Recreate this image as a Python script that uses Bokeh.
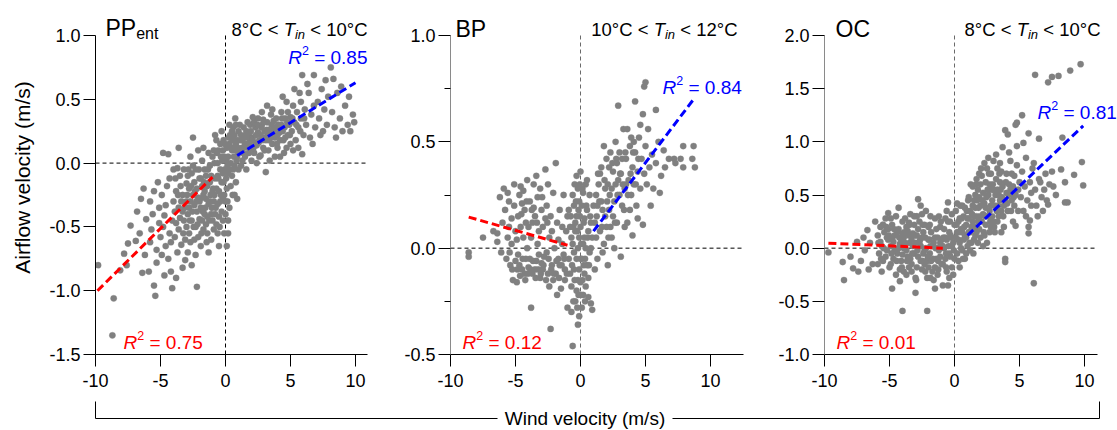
from bokeh.plotting import figure
from bokeh.models import Range1d, Label, FixedTicker, PrintfTickFormatter
from bokeh.layouts import row, column
from bokeh.core.properties import value
from bokeh.embed import file_html
from bokeh.resources import INLINE

# ---------------- data ----------------
pp_points = [
    (-9.8,-0.80), (-8.7,-1.35), (-8.6,-1.06), (-8.1,-0.84), (-7.8,-0.71), (-7.5,-0.63), (-7.3,-0.49), (-7.6,-0.80),
    (-6.9,-0.61), (-6.8,-0.38), (-6.6,-0.55), (-6.5,-0.28), (-6.3,-0.20), (-6.2,-0.72), (-6.1,-0.44), (-6.4,-0.86),
    (-5.9,-0.85), (-5.8,-0.30), (-5.7,-0.52), (-5.6,-0.40), (-5.5,-0.96), (-5.4,-1.04), (-5.3,-0.68), (-5.2,-0.15),
    (-5.1,-0.35), (-5.5,-0.22), (-5.0,-0.58), (-5.3,-0.78), (-5.8,-0.62), (-5.1,-0.47),
    (-4.9,-0.25), (-4.8,0.08), (-4.7,-0.41), (-4.6,-0.65), (-4.5,-0.18), (-4.4,0.07), (-4.3,-0.55), (-4.2,-0.85),
    (-4.1,-0.98), (-4.0,-0.30), (-4.9,-0.72), (-4.6,-0.33), (-4.3,-0.12), (-4.1,-0.45), (-4.8,-0.50), (-4.4,-0.75),
    (-4.2,-0.62), (-4.0,-0.05), (-4.7,-0.88),
    (-3.9,-0.38), (-3.8,-0.22), (-3.7,-0.70), (-3.6,-0.52), (-3.5,-0.10), (-3.4,-0.30), (-3.3,-0.82), (-3.2,-0.45),
    (-3.1,-0.60), (-3.0,-0.16), (-3.9,-0.58), (-3.8,-0.90), (-3.7,-0.04), (-3.6,-0.35), (-3.5,-0.43), (-3.4,-0.64),
    (-3.3,-0.25), (-3.2,-0.05), (-3.1,-0.76), (-3.0,-0.50), (-3.6,0.12), (-3.3,-0.38), (-3.8,-0.47), (-3.0,-0.30),
    (-2.9,-0.40), (-2.8,-0.20), (-2.7,-0.62), (-2.6,-0.08), (-2.5,0.20), (-2.4,-0.33), (-2.3,-0.50), (-2.2,-0.97),
    (-2.1,-0.27), (-2.0,-0.12), (-2.9,-0.70), (-2.8,-0.55), (-2.7,-0.30), (-2.6,-0.45), (-2.5,-0.02), (-2.4,-0.15),
    (-2.3,-0.72), (-2.2,-0.38), (-2.1,-0.58), (-2.0,-0.44), (-2.9,-0.10), (-2.7,0.05), (-2.5,-0.25), (-2.3,-0.05),
    (-2.1,0.10), (-2.6,-0.80), (-2.4,-0.60), (-2.0,-0.30), (-2.8,-0.35), (-2.2,-0.20),
    (-1.9,-0.35), (-1.8,-0.18), (-1.7,-0.52), (-1.6,-0.05), (-1.5,-0.28), (-1.4,-0.42), (-1.3,0.08), (-1.2,-0.15),
    (-1.1,-0.60), (-1.0,-0.22), (-1.9,-0.65), (-1.8,0.02), (-1.7,-0.25), (-1.6,-0.40), (-1.5,-0.10), (-1.4,-0.55),
    (-1.3,-0.32), (-1.2,-0.02), (-1.1,-0.40), (-1.0,0.05), (-1.9,-0.12), (-1.7,0.12), (-1.5,-0.48), (-1.3,-0.70),
    (-1.1,-0.10), (-1.6,-0.22), (-1.2,-0.30), (-1.0,-0.45), (-1.8,-0.45), (-1.4,-0.18),
    (-0.9,-0.30), (-0.8,-0.12), (-0.7,-0.48), (-0.6,0.00), (-0.5,-0.65), (-0.5,-0.22), (-0.4,0.15), (-0.3,-0.38),
    (-0.2,-0.08), (-0.1,-0.55), (-0.9,0.10), (-0.8,-0.40), (-0.7,-0.20), (-0.6,-0.32), (-0.4,-0.05), (-0.3,0.25),
    (-0.2,-0.28), (-0.1,0.05), (-0.9,-0.52), (-0.7,0.18), (-0.5,-0.42), (-0.3,-0.15), (-0.1,-0.25), (-0.8,0.22),
    (-0.6,-0.55), (-0.4,-0.30), (-0.2,0.10), (0.0,-0.40), (-0.6,-0.10), (-0.2,-0.45),
    (0.1,-0.65), (0.1,-0.20), (0.2,0.05), (0.3,-0.35), (0.4,0.20), (0.5,-0.10), (0.6,0.28), (0.7,-0.02),
    (0.8,0.15), (0.9,-0.28), (1.0,0.08), (0.1,0.12), (0.2,-0.45), (0.3,0.30), (0.4,-0.18), (0.5,0.10),
    (0.6,-0.05), (0.7,0.22), (0.8,-0.15), (0.9,0.18), (1.0,0.25), (0.2,-0.08), (0.4,0.00), (0.6,0.12),
    (0.8,0.30), (1.0,-0.05), (0.3,0.15), (0.7,-0.25), (0.5,0.25), (0.9,0.05), (0.2,-0.55), (0.0,-0.30),
    (1.1,0.10), (1.2,0.22), (1.3,0.02), (1.4,0.28), (1.5,0.15), (1.6,-0.05), (1.7,0.20), (1.8,0.08),
    (1.9,0.30), (2.0,0.12), (1.1,0.30), (1.3,0.18), (1.5,0.05), (1.7,0.32), (1.9,0.18), (1.2,-0.02),
    (1.6,0.25), (2.0,0.02), (1.4,0.12), (1.8,0.22),
    (2.1,0.20), (2.2,0.08), (2.3,0.28), (2.4,0.14), (2.5,0.35), (2.6,0.05), (2.7,0.22), (2.8,0.30),
    (2.9,0.12), (3.0,0.25), (2.2,0.32), (2.4,0.00), (2.6,0.18), (2.8,0.40), (3.0,0.10), (2.3,0.16),
    (2.7,0.06), (2.5,0.24), (2.9,0.34), (2.1,0.36),
    (3.1,-0.07), (3.1,0.18), (3.2,0.32), (3.3,0.10), (3.4,0.25), (3.5,0.38), (3.6,0.15), (3.7,0.28),
    (3.8,0.05), (3.9,0.35), (4.0,0.22), (3.2,0.45), (3.4,0.02), (3.6,0.42), (3.8,0.20), (4.0,0.12),
    (3.3,0.26), (3.7,0.33), (3.5,0.20), (3.9,0.27),
    (4.1,0.30), (4.2,0.18), (4.3,0.40), (4.4,0.25), (4.5,0.08), (4.6,0.35), (4.7,0.48), (4.8,0.22),
    (4.9,0.30), (5.0,0.15), (4.2,0.05), (4.4,0.52), (4.6,0.20), (4.8,0.40), (5.0,0.36), (4.3,0.30), (4.7,0.12),
    (5.1,0.25), (5.2,0.45), (5.3,0.32), (5.4,0.18), (5.5,0.40), (5.6,0.28), (5.7,0.55), (5.8,0.35),
    (5.9,0.69), (5.9,0.07), (6.0,0.22), (5.3,0.58), (5.6,0.12), (5.8,0.48), (5.2,0.10),
    (6.1,0.42), (6.2,0.30), (6.4,0.55), (6.5,0.20), (6.6,0.38), (6.8,0.69), (6.8,0.45), (6.9,0.28),
    (6.3,0.62), (6.7,0.15),
    (7.1,0.48), (7.2,0.35), (7.4,0.58), (7.5,0.25), (7.6,0.42), (7.8,0.30), (7.9,0.52), (7.3,0.22), (7.7,0.65),
    (8.1,0.75), (8.3,0.66), (8.2,0.40), (8.4,0.28), (8.6,0.55), (8.8,0.35), (9.0,0.25), (9.2,0.45),
    (9.4,0.30), (9.6,0.25), (9.8,0.38), (9.9,0.32), (8.9,0.60), (9.5,0.52), (8.5,0.20),
    # dense core
    (-2.95,-0.25), (-2.75,-0.45), (-2.55,-0.38), (-2.35,-0.22), (-2.15,-0.48), (-1.95,-0.28), (-1.75,-0.38),
    (-1.55,-0.35), (-1.35,-0.05), (-1.15,-0.25), (-2.85,-0.05), (-2.65,-0.18), (-2.45,-0.50), (-2.25,-0.30),
    (-2.05,-0.05), (-1.85,-0.55), (-1.65,-0.15), (-1.45,-0.62), (-1.25,-0.45), (-1.05,-0.35), (-3.45,-0.18),
    (-3.25,-0.55), (-3.65,-0.25), (-3.85,-0.12), (-3.15,-0.35),
    (-0.95,-0.20), (-0.85,-0.25), (-0.75,-0.35), (-0.65,0.08), (-0.55,-0.12), (-0.45,-0.50), (-0.35,-0.25),
    (-0.25,0.02), (-0.15,-0.15), (-0.05,-0.05), (0.05,0.02), (0.15,-0.30), (0.25,0.20), (0.35,-0.05),
    (0.45,0.12), (0.55,-0.25), (0.65,0.05), (0.75,0.10), (0.85,0.02), (0.95,0.12), (-0.85,0.00), (-0.55,0.10),
    (-0.35,0.05), (-0.15,0.18), (0.05,-0.12), (0.15,-0.02), (0.35,0.22), (0.55,0.18), (0.75,0.35), (-0.05,0.15),
    (1.15,0.18), (1.35,0.08), (1.55,0.22), (1.75,0.12), (1.95,0.25), (2.15,0.12), (2.35,0.22), (2.55,0.16),
    (2.75,0.28), (2.95,0.20), (3.15,0.26), (3.35,0.18), (3.55,0.30), (3.75,0.22), (3.95,0.15), (4.15,0.24),
    (4.35,0.35), (4.55,0.28), (4.75,0.32), (4.95,0.22), (1.25,0.12), (1.65,0.15), (2.05,0.18), (2.45,0.30),
    (2.85,0.18), (3.25,0.22), (3.65,0.25), (4.05,0.30), (4.45,0.18), (5.15,0.35), (5.45,0.30), (5.75,0.25),
    (6.05,0.35), (1.45,0.20), (1.85,0.15),
]

bp_points = [
    (-8.6,-0.02), (-8.6,-0.04), (-7.5,0.05), (-6.4,0.07), (-6.4,0.03), (-6.2,0.24), (-5.9,0.28), (-6.7,0.08),
    (-6.0,0.12), (-6.1,-0.02),
    (-5.8,0.18), (-5.6,0.05), (-5.5,0.22), (-5.4,-0.08), (-5.3,0.14), (-5.2,-0.15), (-5.1,0.30), (-5.0,-0.06),
    (-5.7,-0.05), (-5.5,0.10), (-5.3,0.02), (-5.1,0.20), (-5.6,0.26), (-5.0,0.08),
    (-4.9,-0.16), (-4.8,0.15), (-4.7,0.25), (-4.6,0.29), (-4.5,-0.10), (-4.4,0.05), (-4.3,0.18), (-4.2,-0.05),
    (-4.1,0.32), (-4.0,0.10), (-4.9,0.04), (-4.7,-0.08), (-4.5,0.21), (-4.3,-0.12), (-4.1,0.00), (-4.8,-0.03),
    (-4.4,0.27), (-4.2,0.12), (-4.6,0.10), (-4.0,-0.09),
    (-3.9,0.22), (-3.8,-0.28), (-3.8,0.05), (-3.7,-0.12), (-3.6,0.30), (-3.5,0.15), (-3.4,-0.06), (-3.3,0.24),
    (-3.2,0.08), (-3.1,-0.14), (-3.0,0.18), (-3.9,-0.05), (-3.7,0.12), (-3.5,-0.10), (-3.3,0.02), (-3.1,0.28),
    (-3.6,0.19), (-3.2,-0.03), (-3.4,0.34), (-3.0,-0.07),
    (-2.9,0.10), (-2.8,-0.04), (-2.7,0.37), (-2.6,0.20), (-2.5,-0.12), (-2.4,0.05), (-2.3,-0.38), (-2.3,0.15),
    (-2.2,-0.08), (-2.1,0.26), (-2.0,0.00), (-2.9,-0.10), (-2.7,0.14), (-2.5,0.30), (-2.4,-0.18), (-2.1,-0.15),
    (-2.6,-0.02), (-2.2,0.08),
    (-1.9,0.40), (-1.8,-0.22), (-1.8,0.12), (-1.7,-0.05), (-1.6,0.18), (-1.5,-0.19), (-1.4,0.02), (-1.3,0.25),
    (-1.2,-0.10), (-1.1,0.08), (-1.0,-0.28), (-1.0,0.15), (-1.9,-0.12), (-1.6,-0.08), (-1.4,0.10), (-1.2,-0.15),
    (-1.7,0.04), (-1.3,-0.03),
    (-0.9,-0.05), (-0.8,0.10), (-0.7,-0.18), (-0.6,-0.46), (-0.6,0.02), (-0.5,0.20), (-0.5,-0.10), (-0.4,0.08),
    (-0.4,-0.25), (-0.3,0.15), (-0.3,-0.05), (-0.2,0.28), (-0.2,-0.15), (-0.1,-0.32), (-0.1,0.05), (-0.1,0.22),
    (-0.9,0.18), (-0.7,0.05), (-0.5,-0.02), (-0.3,-0.20), (-0.2,0.00), (-0.8,-0.12), (-0.4,0.12), (-0.6,0.25),
    (-0.1,-0.10), (-0.3,0.34), (-0.7,-0.30), (-0.2,-0.36),
    (0.0,-0.16), (0.0,0.36), (0.0,0.10), (0.1,-0.05), (0.1,0.20), (0.2,-0.22), (0.2,0.02), (0.3,0.14),
    (0.3,-0.12), (0.4,0.30), (0.4,0.00), (0.5,-0.08), (0.5,0.18), (0.6,-0.23), (0.6,0.08), (0.7,0.25),
    (0.7,-0.02), (0.8,-0.26), (0.8,0.12), (0.9,-0.29), (0.9,0.05), (1.0,0.20), (0.1,-0.28), (0.2,0.26),
    (0.4,-0.18), (0.6,-0.14), (0.3,0.05), (0.5,0.32), (0.8,0.00), (0.0,-0.05),
    (1.1,0.12), (1.2,0.25), (1.3,-0.05), (1.4,0.30), (1.5,0.08), (1.6,0.38), (1.7,0.18), (1.8,0.02),
    (1.9,0.28), (2.0,0.42), (1.1,-0.10), (1.3,0.20), (1.5,0.35), (1.7,-0.02), (1.9,0.15), (1.2,0.05),
    (1.6,0.22), (1.8,0.48), (2.0,0.10),
    (2.1,-0.08), (2.1,0.30), (2.2,0.18), (2.3,0.45), (2.4,0.05), (2.5,0.36), (2.6,0.22), (2.7,0.50),
    (2.8,0.12), (2.9,0.67), (2.9,0.32), (3.0,0.25), (2.2,0.38), (2.4,0.28), (2.6,0.00), (2.8,0.40),
    (3.0,0.45), (2.5,0.15), (2.7,0.30), (2.3,0.10),
    (3.1,-0.04), (3.1,0.35), (3.2,0.20), (3.3,0.56), (3.4,0.28), (3.5,0.42), (3.6,0.56), (3.6,0.12),
    (3.7,0.32), (3.8,0.48), (3.9,0.25), (4.0,0.06), (4.0,0.38), (3.2,0.42), (3.4,0.10), (3.8,0.18),
    (3.5,0.30), (3.9,0.52),
    (4.1,0.30), (4.2,0.69), (4.2,0.45), (4.3,0.20), (4.4,0.36), (4.5,0.52), (4.6,0.28), (4.7,0.42),
    (4.8,0.11), (4.8,0.63), (4.9,0.76), (5.0,0.78), (4.9,0.35), (5.0,0.48), (4.4,0.14), (4.6,0.58), (4.1,0.50),
    (5.2,0.56), (5.3,0.38), (5.5,0.44), (5.6,0.28), (5.8,0.65), (5.8,0.40), (6.0,0.50), (6.2,0.34),
    (6.4,0.46), (6.5,0.38), (6.8,0.42), (7.2,0.42), (7.3,0.40), (7.7,0.42), (7.9,0.38), (7.9,0.48),
    (8.6,0.42), (8.7,0.48), (8.8,0.38), (5.4,0.20), (6.1,0.26), (5.1,0.30),
    # dense core
    (-4.85,-0.10), (-4.65,-0.13), (-4.45,-0.05), (-4.25,-0.15), (-4.05,-0.12), (-3.85,-0.10), (-3.65,-0.06),
    (-3.45,-0.14), (-3.25,-0.10), (-3.05,-0.12), (-2.85,-0.08), (-2.65,-0.15), (-2.45,-0.05), (-2.25,-0.10),
    (-2.05,-0.12), (-1.85,-0.06), (-1.65,-0.14), (-1.45,-0.08), (-1.25,-0.05), (-1.05,-0.12), (-4.55,0.16),
    (-4.15,0.22), (-3.75,0.18), (-3.35,0.12), (-2.95,0.24), (-2.55,0.12), (-5.25,-0.10), (-5.45,-0.02),
    (-0.75,0.15), (-0.65,-0.08), (-0.55,0.10), (-0.45,-0.15), (-0.35,0.22), (-0.25,0.08), (-0.15,-0.22),
    (-0.05,0.15), (0.05,0.02), (0.15,-0.15), (0.25,0.12), (0.35,-0.05), (0.45,0.20), (0.55,0.05), (0.65,-0.08),
    (0.75,0.15), (-0.45,0.30), (-0.05,0.30), (0.15,0.28), (-0.25,-0.28), (0.05,-0.22), (0.35,-0.25),
    (-0.55,-0.25), (0.25,-0.08), (-0.15,0.18),
    (1.25,0.15), (1.45,0.22), (1.65,0.10), (1.85,0.32), (2.05,0.22), (2.25,0.25), (2.45,0.40), (2.65,0.12),
    (2.85,0.25), (3.05,0.35), (3.25,0.30), (3.45,0.45), (3.65,0.25), (3.85,0.35), (4.05,0.45), (4.25,0.30),
    (4.45,0.42), (1.35,0.35), (2.15,0.05), (2.75,0.42), (3.35,0.18),
]

oc_points = [
    (-9.7,-0.04), (-8.6,-0.13), (-8.5,-0.30), (-7.8,-0.19), (-7.5,0.06), (-6.7,0.17), (-6.1,0.25), (-8.0,-0.08),
    (-7.2,-0.12), (-6.9,-0.02), (-6.5,0.05), (-7.0,0.10), (-6.3,-0.15), (-7.4,-0.22), (-6.6,-0.20), (-5.1,0.33),
    (-4.3,0.38), (-4.8,-0.38), (-4.2,-0.31), (-4.0,-0.59), (-3.0,-0.42), (-2.1,-0.59), (-2.8,0.46), (-0.5,0.43),
    (-5.9,0.12), (-5.8,-0.05), (-5.7,0.20), (-5.6,0.02), (-5.5,-0.12), (-5.4,0.15), (-5.3,0.28), (-5.2,-0.02),
    (-5.1,0.08), (-5.0,-0.18), (-5.9,-0.15), (-5.7,0.06), (-5.5,0.22), (-5.3,-0.08), (-5.1,0.18), (-5.6,-0.22), (-5.2,0.10),
    (-4.9,0.02), (-4.8,0.22), (-4.7,-0.10), (-4.6,0.12), (-4.5,0.30), (-4.4,-0.05), (-4.3,0.18), (-4.2,-0.20),
    (-4.1,0.08), (-4.0,0.25), (-4.9,-0.15), (-4.7,0.06), (-4.5,-0.25), (-4.3,0.00), (-4.1,-0.12), (-4.8,0.10),
    (-4.6,-0.02), (-4.4,0.15), (-4.2,0.04), (-4.0,-0.06), (-4.9,0.28), (-4.0,0.14),
    (-3.9,-0.22), (-3.8,0.05), (-3.7,0.20), (-3.6,-0.08), (-3.5,0.12), (-3.4,0.32), (-3.3,-0.15), (-3.2,0.02),
    (-3.1,0.22), (-3.0,-0.28), (-3.9,0.10), (-3.7,-0.02), (-3.5,-0.18), (-3.3,0.08), (-3.1,-0.05), (-3.8,0.28),
    (-3.6,0.16), (-3.4,-0.10), (-3.2,0.14), (-3.0,0.05), (-3.9,0.00), (-3.5,0.24), (-3.1,0.30), (-3.7,-0.25), (-3.3,-0.22),
    (-2.9,0.12), (-2.8,-0.08), (-2.7,0.25), (-2.6,0.02), (-2.5,-0.20), (-2.4,0.15), (-2.3,-0.02), (-2.2,0.35),
    (-2.1,-0.12), (-2.0,0.08), (-2.9,-0.18), (-2.7,0.05), (-2.5,0.10), (-2.3,0.22), (-2.1,-0.28), (-2.8,0.18),
    (-2.6,-0.12), (-2.4,-0.05), (-2.2,0.00), (-2.0,-0.18), (-2.9,0.30), (-2.5,0.32), (-2.3,-0.15), (-2.6,0.40), (-2.0,0.20),
    (-1.9,-0.05), (-1.8,0.15), (-1.7,-0.22), (-1.6,0.05), (-1.5,0.28), (-1.4,-0.10), (-1.3,0.10), (-1.2,-0.02),
    (-1.1,0.20), (-1.0,-0.15), (-1.9,0.22), (-1.7,0.02), (-1.5,-0.18), (-1.3,-0.25), (-1.1,0.05), (-1.8,-0.12),
    (-1.6,-0.30), (-1.4,0.18), (-1.2,0.30), (-1.0,0.08), (-1.9,0.08), (-1.5,0.10), (-1.1,-0.08), (-1.5,-0.38), (-1.3,0.00),
    (-0.9,-0.35), (-0.9,0.02), (-0.8,0.18), (-0.7,-0.10), (-0.6,0.08), (-0.5,-0.35), (-0.5,0.25), (-0.4,-0.05),
    (-0.3,0.12), (-0.2,-0.18), (-0.1,0.05), (0.0,0.22), (-0.9,-0.15), (-0.7,0.28), (-0.6,-0.22), (-0.4,0.15),
    (-0.2,0.02), (-0.8,0.00), (-0.3,-0.08), (-0.1,-0.25), (-0.6,0.35), (-0.2,0.32), (0.0,-0.10), (-0.4,-0.28), (-0.7,0.10),
    (0.1,0.10), (0.2,-0.05), (0.3,0.25), (0.4,0.05), (0.5,0.18), (0.6,-0.02), (0.7,0.30), (0.8,0.12),
    (0.9,0.22), (1.0,0.02), (0.1,0.35), (0.2,0.15), (0.3,-0.12), (0.4,0.28), (0.5,0.00), (0.6,0.15),
    (0.7,0.08), (0.8,0.38), (0.9,-0.05), (1.0,0.28), (0.2,0.42), (0.4,-0.18), (0.6,0.40), (0.8,-0.10), (0.3,0.08), (0.9,0.10),
    (1.1,0.15), (1.2,0.35), (1.3,0.05), (1.4,0.25), (1.5,0.45), (1.6,0.12), (1.7,0.30), (1.8,0.55),
    (1.9,0.18), (2.0,0.40), (1.1,0.48), (1.2,-0.02), (1.3,0.20), (1.4,0.58), (1.5,0.08), (1.6,0.38),
    (1.7,0.65), (1.8,0.25), (1.9,0.48), (2.0,0.10), (1.2,0.15), (1.4,0.40), (1.6,0.50), (1.8,0.05),
    (1.9,0.70), (1.1,0.28), (1.5,0.30), (1.7,0.15), (2.0,0.60),
    (2.1,0.25), (2.2,0.52), (2.3,0.12), (2.4,0.38), (2.5,0.75), (2.5,0.05), (2.6,0.30), (2.7,0.60),
    (2.8,0.20), (2.9,0.45), (3.0,0.82), (2.1,0.68), (2.2,0.02), (2.3,0.42), (2.4,0.62), (2.6,0.50),
    (2.7,0.15), (2.8,0.70), (2.9,0.30), (3.0,0.55), (2.3,0.80), (2.6,0.85), (2.2,0.32), (2.8,0.40),
    (2.4,0.22), (3.0,0.25), (2.7,0.35),
    (3.1,0.40), (3.2,0.65), (3.3,0.25), (3.4,0.50), (3.5,0.80), (3.6,0.35), (3.7,0.95), (3.7,0.58),
    (3.8,0.20), (3.9,-0.10), (3.9,-0.13), (3.9,1.11), (3.9,0.45), (4.0,0.70), (3.1,0.15), (3.2,0.88),
    (3.3,0.55), (3.4,0.30), (3.5,0.62), (3.6,0.72), (3.8,0.40), (4.0,0.52), (3.3,0.75), (3.6,0.15), (3.5,0.45),
    (4.1,1.07), (4.1,0.35), (4.2,0.60), (4.3,0.82), (4.4,0.45), (4.5,0.25), (4.6,0.68), (4.7,1.16),
    (4.7,0.21), (4.7,0.50), (4.8,1.18), (4.8,0.96), (4.8,0.78), (4.9,0.35), (5.0,0.62), (4.2,0.90),
    (4.4,0.70), (4.6,0.40), (4.9,0.55), (4.3,0.55), (4.5,0.58),
    (5.2,1.25), (5.3,0.99), (5.1,0.48), (5.2,0.72), (5.3,0.35), (5.4,0.58), (5.5,0.85), (5.6,0.45),
    (5.7,1.08), (5.7,0.14), (5.7,0.20), (5.8,0.26), (5.8,0.62), (5.9,0.40), (6.0,0.75), (5.5,0.30), (5.9,0.52),
    (6.1,0.80), (6.1,-0.33), (6.2,1.63), (6.2,0.55), (6.3,0.40), (6.5,1.03), (6.5,0.65), (6.6,0.62),
    (6.7,0.48), (6.9,0.55), (7.0,0.70), (7.2,1.56), (7.2,0.41), (7.3,0.60), (7.5,1.61), (7.5,0.72),
    (7.6,0.58), (7.8,0.50), (8.0,1.62), (8.2,0.74), (8.3,1.04), (8.5,0.62), (8.5,0.43), (8.7,0.43),
    (8.9,1.67), (9.2,0.69), (9.7,1.73), (9.8,0.81), (9.9,0.59), (6.4,0.30), (6.8,0.35), (7.1,0.45),
    # dense core
    (-5.85,0.05), (-5.45,0.00), (-5.05,0.12), (-4.65,0.18), (-4.25,0.10), (-3.85,0.15), (-3.45,0.05),
    (-3.05,0.12), (-2.65,0.08), (-2.25,0.10), (-1.85,0.02), (-1.45,0.00), (-1.05,0.02), (-0.65,-0.05),
    (-0.25,0.10), (-5.65,-0.10), (-5.25,0.20), (-4.85,-0.05), (-4.45,-0.12), (-4.05,-0.18), (-3.65,-0.12),
    (-3.25,-0.05), (-2.85,-0.02), (-2.45,-0.12), (-2.05,-0.08), (-1.65,-0.10), (-1.25,-0.12), (-0.85,0.10),
    (-0.45,0.02), (-0.05,-0.02), (-2.45,0.22), (-1.85,0.30), (-3.45,0.22), (-1.05,0.25), (-0.35,0.25),
    (-2.95,-0.30), (-2.25,-0.22), (-1.25,-0.20), (-0.65,-0.18), (-1.85,-0.28),
    (0.15,0.22), (0.35,0.15), (0.55,0.28), (0.75,0.20), (0.95,0.35), (1.15,0.05), (1.35,0.32), (1.55,0.20),
    (1.75,0.45), (1.95,0.30), (2.15,0.45), (2.35,0.30), (2.55,0.55), (2.75,0.25), (2.95,0.60), (3.15,0.50),
    (3.35,0.40), (3.55,0.55), (3.75,0.30), (3.95,0.62), (4.15,0.50), (4.35,0.35), (4.55,0.48), (0.45,0.40),
    (1.05,0.45), (1.25,0.60), (1.65,0.60), (2.05,0.75), (2.45,0.48), (2.85,0.55), (3.25,0.35), (3.65,0.48),
    (4.05,0.42), (0.65,-0.10), (1.45,-0.05), (2.25,0.15), (3.05,0.20), (3.45,0.70), (2.65,0.70), (1.85,0.38),
]

# regression line end points
pp_neg_x, pp_neg_y = [-9.85, -1.0], [-1.00, -0.11]
pp_pos_x, pp_pos_y = [0.9, 10.0], [0.06, 0.63]
bp_neg_x, bp_neg_y = [-8.6, -1.0], [0.146, 0.014]
bp_pos_x, bp_pos_y = [1.0, 8.7], [0.08, 0.70]
oc_neg_x, oc_neg_y = [-9.7, -0.9], [0.047, 0.0]
oc_pos_x, oc_pos_y = [1.0, 9.9], [0.12, 1.15]

titles = ["PP", "BP", "OC"]
title_sub = "ent"
temp_low = ["8°C", "10°C", "8°C"]
temp_high = ["10°C", "12°C", "10°C"]
r2_pos = ["0.85", "0.84", "0.81"]
r2_neg = ["0.75", "0.12", "0.01"]
x_ticks = [-10, -5, 0, 5, 10]
y_ticks_pp = [-1.5, -1.0, -0.5, 0.0, 0.5, 1.0]
y_ticks_bp = [-0.5, 0.0, 0.5, 1.0]
y_minor_bp = [-0.25, 0.25, 0.75]
y_ticks_oc = [-1.0, -0.5, 0.0, 0.5, 1.0, 1.5, 2.0]

# ---------------- styling helpers ----------------
FONT = "Liberation Sans"
GRAY = "#808080"
ADV = {'0': .556, '1': .556, '2': .556, '3': .556, '4': .556, '5': .556, '6': .556, '7': .556,
       '8': .556, '9': .556, '.': .278, ' ': .278, '=': .584, '<': .584, '°': .4, 'C': .722,
       'T': .611, 'R': .722, 'i': .222, 'n': .556, 'P': .667, 'B': .667, 'O': .778, 'e': .556, 't': .278}


def tw(s, size):
    return sum(ADV.get(c, .556) for c in s) * size


class Pan:
    """maps page pixels of one panel to its data coordinates"""
    def __init__(self, left, ytop, yscale):
        self.left, self.ytop, self.yscale = left, ytop, yscale

    def x(self, px):
        return -10 + (px - self.left) / 13.0

    def y(self, py):
        return self.ytop - (py - 35) / self.yscale


def rich(p, pan, px, py, pieces, align="left"):
    total = sum(tw(t, s) for t, s, _, _, _ in pieces)
    cur = px - total if align == "right" else px
    for t, s, style, dy, color in pieces:
        cur += (len(t) - len(t.lstrip(" "))) * ADV[' '] * s
        t2 = t.strip(" ")
        p.add_layout(Label(x=pan.x(cur), y=pan.y(py + dy), text=t2, text_font=FONT,
                           text_font_size=f"{s}px", text_font_style=style, text_color=color,
                           text_baseline="alphabetic", text_align="left"))
        cur += tw(t2, s)
        cur += (len(t) - len(t.rstrip(" "))) * ADV[' '] * s


def make_fig(pan, width, bl, br, frame_w, axis_xend, ybounds, yticks, yminor, yaxis_color, vcolor):
    xend = -10 + frame_w / 13.0
    ytop_frame = pan.y(0)
    p = figure(width=width, height=400, x_range=Range1d(-10, xend),
               y_range=Range1d(ybounds[0], ytop_frame),
               output_backend="svg", toolbar_location=None,
               min_border_left=bl, min_border_right=br, min_border_top=0, min_border_bottom=46)
    p.outline_line_color = None
    p.grid.visible = False
    p.background_fill_color = "white"
    p.border_fill_color = "white"
    xa, ya = p.xaxis[0], p.yaxis[0]
    xa.ticker = FixedTicker(ticks=x_ticks)
    xa.formatter = PrintfTickFormatter(format="%d")
    xa.bounds = (-10, axis_xend)
    ya.ticker = FixedTicker(ticks=yticks, minor_ticks=yminor)
    ya.formatter = PrintfTickFormatter(format="%.1f")
    ya.bounds = ybounds
    for a in (xa, ya):
        a.major_tick_out = 12
        a.major_tick_in = 0
        a.minor_tick_in = 0
        a.minor_tick_out = 6 if yminor else 0
        a.major_label_text_font = FONT
        a.major_label_text_font_size = "18px"
        a.major_label_text_color = "black"
        a.major_tick_line_color = "black"
        a.minor_tick_line_color = "black"
        a.axis_line_color = "black"
    xa.minor_tick_out = 0
    xa.major_label_standoff = 7
    ya.major_label_standoff = 3
    ya.axis_line_color = yaxis_color
    # zero reference lines
    p.segment(x0=[-10], y0=[0], x1=[axis_xend], y1=[0], line_color="black", line_dash="4 3",
              line_width=1, level="underlay")
    p.segment(x0=[0], y0=[ybounds[0]], x1=[0], y1=[ybounds[1]], line_color=vcolor, line_dash="4 3",
              line_width=1, level="underlay")
    return p


def draw(p, pts, negx, negy, posx, posy):
    xs = [a for a, b in pts]
    ys = [b for a, b in pts]
    p.scatter(xs, ys, size=6.3, fill_color=GRAY, line_color=GRAY, line_width=0.3)
    p.line(negx, negy, line_color="red", line_width=3, line_dash="8 4")
    p.line(posx, posy, line_color="blue", line_width=3, line_dash="8 4")


def annotate(p, pan, k, tx, tright, rpos_px, rpos_py, rpos_align, rneg_px):
    if k == 0:
        rich(p, pan, tx, 27, [(titles[k], 23, "normal", 0, "black"), (title_sub, 16, "normal", 6, "black")])
    else:
        rich(p, pan, tx, 28, [(titles[k], 23, "normal", 0, "black")])
    rich(p, pan, tright, 28.5, [(temp_low[k] + " < ", 18.5, "normal", 0, "black"),
                                ("T", 18.5, "italic", 0, "black"),
                                ("in", 13, "italic", 5, "black"),
                                (" < " + temp_high[k], 18.5, "normal", 0, "black")], align="right")
    rich(p, pan, rpos_px, rpos_py, [("R", 19, "italic", 0, "blue"), ("2", 12.5, "normal", -7, "blue"),
                                    (" = " + r2_pos[k], 19, "normal", 0, "blue")], align=rpos_align)
    rich(p, pan, rneg_px, 342, [("R", 19, "italic", 0, "red"), ("2", 12.5, "normal", -7, "red"),
                                (" = " + r2_neg[k], 19, "normal", 0, "red")])


# Panel 1
pan1 = Pan(95, 1.0, 319 / 2.5)
p1 = make_fig(pan1, 385, 95, 18, 272, -10 + 272 / 13, (-1.5, 1.0), y_ticks_pp, [], "black", "black")
draw(p1, pp_points, pp_neg_x, pp_neg_y, pp_pos_x, pp_pos_y)
p1.yaxis[0].axis_label = "Airflow velocity (m/s)"
p1.yaxis[0].axis_label_text_font = FONT
p1.yaxis[0].axis_label_text_font_size = "21px"
p1.yaxis[0].axis_label_text_font_style = "normal"
p1.yaxis[0].axis_label_text_color = "black"
p1.yaxis[0].axis_label_standoff = 12
annotate(p1, pan1, 0, 105, 367, 367, 57, "right", 123)

# Panel 2
pan2 = Pan(450, 1.0, 319 / 1.5)
p2 = make_fig(pan2, 373, 65, 15, 293, -10 + 293 / 13, (-0.5, 1.0), y_ticks_bp, y_minor_bp, "#8a8a8a", "#6a6a6a")
draw(p2, bp_points, bp_neg_x, bp_neg_y, bp_pos_x, bp_pos_y)
annotate(p2, pan2, 1, 455, 737, 662, 87, "left", 462)

# Panel 3 (frame reaches the page edge so the upper R2 label is not cut)
pan3 = Pan(824, 2.0, 319 / 3.0)
p3 = make_fig(pan3, 359, 66, 0, 293, 11.0, (-1.0, 2.0), y_ticks_oc, [], "#8a8a8a", "#6a6a6a")
draw(p3, oc_points, oc_neg_x, oc_neg_y, oc_pos_x, oc_pos_y)
annotate(p3, pan3, 2, 835, 1100, 1037, 112, "left", 836)

# bottom bracket with shared x-axis label
pb = figure(width=1117, height=30, x_range=Range1d(0, 1117), y_range=Range1d(430, 400),
            output_backend="svg", toolbar_location=None, x_axis_location=None, y_axis_location=None,
            min_border_left=0, min_border_right=0, min_border_top=0, min_border_bottom=0)
pb.outline_line_color = None
pb.grid.visible = False
pb.segment(x0=[95, 95, 672, 1099], y0=[401, 418, 418, 401], x1=[95, 497, 1099, 1099], y1=[418, 418, 418, 418],
           line_color="black", line_width=1)
pb.text(x=[584.5], y=[418], text=["Wind velocity (m/s)"], text_font=value(FONT), text_font_size="19px",
        text_align="center", text_baseline="middle", text_color="black")

layout = column(row(p1, p2, p3), pb)
open("out.html", "w").write(file_html(layout, INLINE))
